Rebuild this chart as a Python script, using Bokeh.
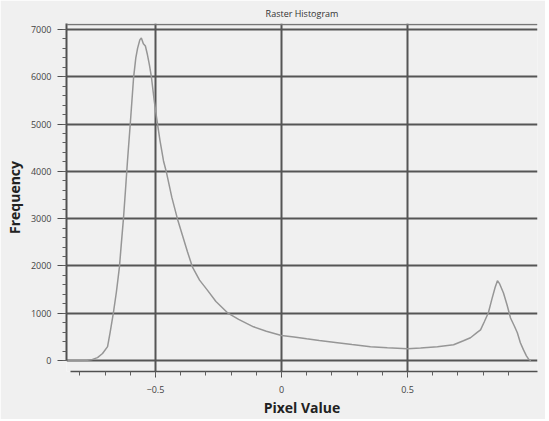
from bokeh.plotting import figure
from bokeh.models import Range1d, FixedTicker, Span
from bokeh.embed import file_html
from bokeh.resources import INLINE

# Histogram curve
pixel_value = [-0.85, -0.80, -0.77, -0.75, -0.73, -0.71, -0.69, -0.68, -0.667, -0.655,
               -0.643, -0.635, -0.627, -0.619, -0.611, -0.600, -0.587, -0.578, -0.571, -0.562,
               -0.556, -0.548, -0.540, -0.532, -0.524, -0.516, -0.505, -0.496, -0.482, -0.468,
               -0.456, -0.435, -0.413, -0.393, -0.373, -0.353, -0.325, -0.294, -0.26, -0.214,
               -0.17, -0.111, -0.06, 0.0, 0.05, 0.1, 0.15, 0.222, 0.28, 0.353,
               0.42, 0.5, 0.552, 0.619, 0.683, 0.722, 0.75, 0.778, 0.79, 0.805,
               0.821, 0.835, 0.848, 0.857, 0.866, 0.881, 0.895, 0.909, 0.925, 0.936,
               0.948, 0.96, 0.972, 0.982, 0.99]
frequency = [0, 0, 5, 25, 63, 150, 294, 590, 1010, 1450,
             1975, 2500, 3000, 3600, 4220, 5000, 5970, 6400, 6600, 6780,
             6820, 6700, 6650, 6470, 6250, 5990, 5500, 5150, 4650, 4220,
             3970, 3450, 3000, 2650, 2300, 1975, 1700, 1490, 1250, 1010,
             870, 714, 620, 530, 500, 460, 425, 378, 340, 294,
             270, 252, 265, 294, 336, 420, 483, 600, 650, 820,
             1010, 1300, 1550, 1690, 1620, 1430, 1180, 900, 720, 588,
             378, 231, 100, 20, 0]

x_major_ticks = [-0.5, 0, 0.5]
x_minor_ticks = [-0.8, -0.7, -0.6, -0.5, -0.4, -0.3, -0.2, -0.1, 0.0, 0.1, 0.2, 0.3, 0.4, 0.5, 0.6, 0.7, 0.8, 0.9]
y_major_ticks = [0, 1000, 2000, 3000, 4000, 5000, 6000, 7000]
y_minor_ticks = list(range(0, 7001, 200))
chart_title = "Raster Histogram"

p = figure(width=545, height=419,
           x_range=Range1d(-0.853, 1.016), y_range=Range1d(-231, 7126),
           output_backend="svg", toolbar_location=None,
           min_border_left=66, min_border_right=8, min_border_top=22, min_border_bottom=47,
           background_fill_color="#f0f0f0", border_fill_color="#f0f0f0",
           outline_line_color=None)

p.title.text = chart_title
p.title.align = "center"
p.title.text_font = "Open Sans"
p.title.text_font_style = "normal"
p.title.text_font_size = "9px"
p.title.text_color = "#333333"
p.title.offset = 0
p.title.standoff = 8

p.line(pixel_value, frequency, line_color="#969696", line_width=1.5)

# axes
p.xaxis.ticker = FixedTicker(ticks=x_major_ticks, minor_ticks=x_minor_ticks)
p.yaxis.ticker = FixedTicker(ticks=y_major_ticks, minor_ticks=y_minor_ticks)
p.xaxis.bounds = (-0.837, 1.016)
p.yaxis.bounds = (0, 7126)

for ax in (p.xaxis, p.yaxis):
    ax.axis_line_color = "#505050"
    ax.major_tick_line_color = "#505050"
    ax.minor_tick_line_color = "#606060"
    ax.major_label_text_font = "Open Sans"
    ax.major_label_text_font_size = "9px"
    ax.major_label_text_color = "#444444"
    ax.axis_label_text_font = "Open Sans"
    ax.axis_label_text_font_style = "bold"
    ax.axis_label_text_font_size = "14px"
    ax.axis_label_text_color = "#222222"
    ax.major_tick_in = 0
    ax.minor_tick_in = 0

p.yaxis.axis_line_width = 2
p.yaxis.major_tick_out = 9
p.yaxis.minor_tick_out = 4
p.yaxis.major_label_standoff = 6
p.yaxis.axis_label = "Frequency"
p.yaxis.axis_label_standoff = 4

p.xaxis.axis_line_width = 1.5
p.xaxis.major_tick_out = 6
p.xaxis.minor_tick_out = 4
p.xaxis.major_label_standoff = 8
p.xaxis.axis_label = "Pixel Value"
p.xaxis.axis_label_standoff = 2

p.xgrid.grid_line_color = "#555555"
p.xgrid.grid_line_width = 2
p.ygrid.grid_line_color = "#555555"
p.ygrid.grid_line_width = 2

p.add_layout(Span(location=7105, dimension="width", line_color="#777777", line_width=1.5))

open("out.html", "w").write(file_html(p, INLINE))
